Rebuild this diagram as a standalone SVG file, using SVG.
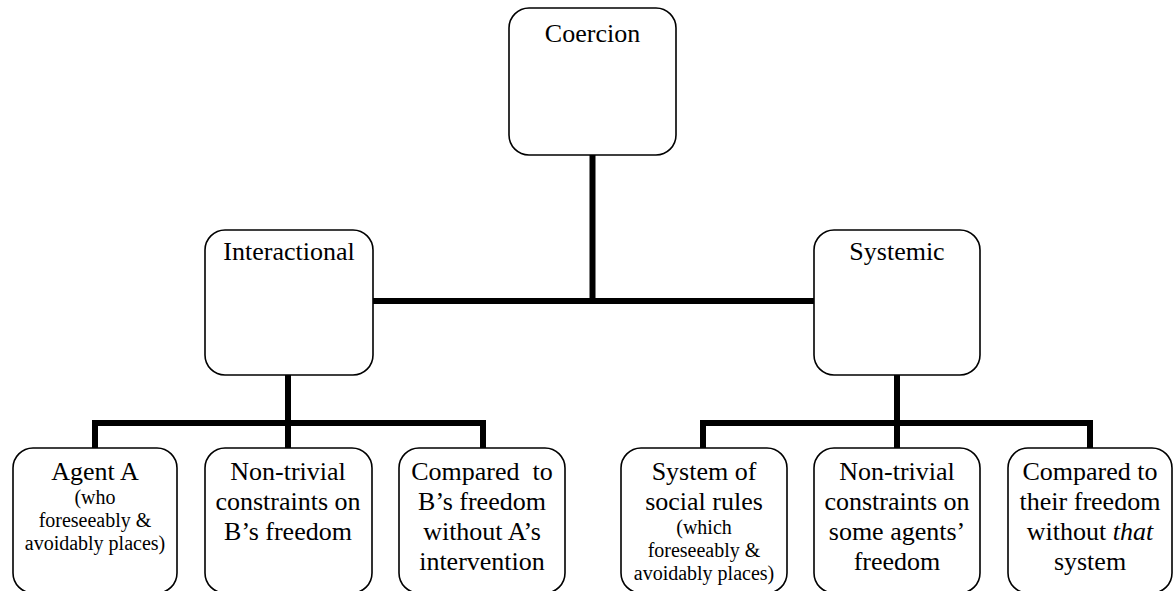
<svg xmlns="http://www.w3.org/2000/svg" width="1173" height="591" viewBox="0 0 1173 591">
<style>
.box{fill:#fff;stroke:#000;stroke-width:1.6}
.t{font-family:"Liberation Serif","Times New Roman",serif;font-size:26px;fill:#000;text-anchor:middle}
.s{font-size:20px}
.c{fill:none;stroke:#000;stroke-width:6;stroke-linejoin:miter;stroke-linecap:butt}
</style>
<rect width="1173" height="591" fill="#fff"/>
<g id="connectors">
<path class="c" d="M592.5,155V301M373,301H814"/>
<path class="c" d="M288,375V423M95,448V423H483V448M288,423V448"/>
<path class="c" d="M897,375V423M703,448V423H1090V448M897,423V448"/>
</g>
<g id="coercion">
<rect class="box" x="509" y="8" width="167" height="147" rx="20"/>
<text class="t" x="592.5" y="42">Coercion</text>
</g>
<g id="interactional">
<rect class="box" x="205" y="230" width="168" height="145" rx="20"/>
<text class="t" x="289" y="260">Interactional</text>
</g>
<g id="systemic">
<rect class="box" x="814" y="230" width="166" height="145" rx="20"/>
<text class="t" x="897" y="260">Systemic</text>
</g>
<g id="agentA">
<rect class="box" x="13" y="448" width="164" height="145" rx="20"/>
<text class="t" x="95" y="480">Agent A</text>
<text class="t s" x="95" y="504">(who</text>
<text class="t s" x="95" y="527">foreseeably &amp;</text>
<text class="t s" x="95" y="550">avoidably places)</text>
</g>
<g id="constraintsB">
<rect class="box" x="205" y="448" width="167" height="145" rx="20"/>
<text class="t" x="288" y="480">Non-trivial</text>
<text class="t" x="288" y="510">constraints on</text>
<text class="t" x="288" y="540">B’s freedom</text>
</g>
<g id="comparedB">
<rect class="box" x="399" y="448" width="166" height="145" rx="20"/>
<text class="t" x="482" y="480" style="white-space:pre">Compared  to</text>
<text class="t" x="482" y="510">B’s freedom</text>
<text class="t" x="482" y="540">without A’s</text>
<text class="t" x="482" y="570">intervention</text>
</g>
<g id="systemRules">
<rect class="box" x="621" y="448" width="166" height="145" rx="20"/>
<text class="t" x="704" y="480">System of</text>
<text class="t" x="704" y="510">social rules</text>
<text class="t s" x="704" y="534">(which</text>
<text class="t s" x="704" y="557">foreseeably &amp;</text>
<text class="t s" x="704" y="580">avoidably places)</text>
</g>
<g id="constraintsAgents">
<rect class="box" x="814" y="448" width="166" height="145" rx="20"/>
<text class="t" x="897" y="480">Non-trivial</text>
<text class="t" x="897" y="510">constraints on</text>
<text class="t" x="897" y="540">some agents’</text>
<text class="t" x="897" y="570">freedom</text>
</g>
<g id="comparedSystem">
<rect class="box" x="1008" y="448" width="164" height="145" rx="20"/>
<text class="t" x="1090" y="480">Compared to</text>
<text class="t" x="1090" y="510">their freedom</text>
<text class="t" x="1090" y="540">without <tspan font-style="italic">that</tspan></text>
<text class="t" x="1090" y="570">system</text>
</g>
</svg>
